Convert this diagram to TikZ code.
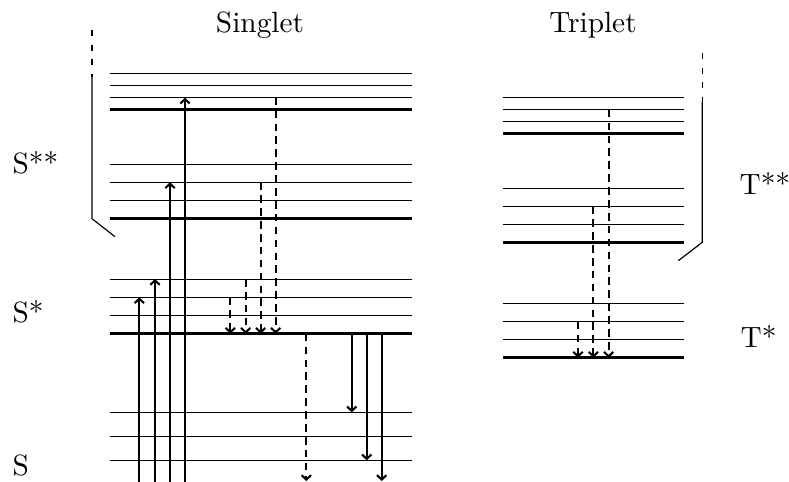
\documentclass[tikz,border=0pt]{standalone}
\usetikzlibrary{arrows.meta}
\begin{document}
\begin{tikzpicture}[x=0.341pt,y=-0.341pt,
  thinlev/.style={line width=0.4pt},
  thicklev/.style={line width=1.1pt},
  tipstyle/.style={-{Straight Barb[length=1.5pt,width=3.2pt]}},
  radarrow/.style={line width=0.7pt,tipstyle},
  nonrad/.style={line width=0.7pt,dash pattern=on 2.6pt off 1.8pt,tipstyle},
  bracketline/.style={line width=0.4pt},
  lbl/.style={inner sep=0pt,anchor=base west},
  ttl/.style={inner sep=0pt,anchor=base}]
\useasboundingbox (0,0) rectangle (789,482);

% titles
\node[ttl] (singlet) at (260,33) {Singlet};
\node[ttl] (triplet) at (593,33) {Triplet};

% state labels
\node[lbl] (Sss) at (12,173) {S**};
\node[lbl] (Ss)  at (12,323) {S*};
\node[lbl] (S0)  at (12,475) {S};
\node[lbl] (Tss) at (739,195) {T**};
\node[lbl] (Ts)  at (740,347) {T*};

% singlet levels
\foreach \y in {73.5,85.5,97.5,164.5,182.5,200.5,279.5,297.5,315.5,412.5,436.5,460.5}
  \draw[thinlev] (110,\y) -- (412,\y);
\foreach \y in {109.7,218.7,333.7}
  \draw[thicklev] (110,\y) -- (412,\y);

% triplet levels
\foreach \y in {97.5,109.5,121.5,188.5,206.5,224.5,303.5,321.5,339.5}
  \draw[thinlev] (502.7,\y) -- (684,\y);
\foreach \y in {133.7,242.3,357.7}
  \draw[thicklev] (502.7,\y) -- (684,\y);

% brackets
\coordinate (sbA) at (92,30);
\coordinate (sbB) at (92,77);
\coordinate (sbC) at (92,218.7);
\coordinate (sbD) at (115,236.7);
\draw[bracketline,dash pattern=on 2pt off 3pt] (sbA) -- (sbB);
\draw[bracketline] (sbB) -- (sbC) -- (sbD);
\coordinate (tbA) at (702.3,53);
\coordinate (tbB) at (702.3,101.7);
\coordinate (tbC) at (702.3,242.3);
\coordinate (tbD) at (678.3,260.7);
\draw[bracketline,dash pattern=on 2pt off 3pt] (tbA) -- (tbB);
\draw[bracketline] (tbB) -- (tbC) -- (tbD);

% absorption arrows
\foreach \i/\x/\yt in {1/139.3/297.3, 2/155/279, 3/170/182.3, 4/185/97.7} {
  \coordinate (ab\i) at (\x,482);
  \coordinate (ae\i) at (\x,\yt);
  \draw[radarrow] (ab\i) -- (ae\i);
}

% internal conversion to S*
\foreach \i/\x/\ys in {1/230.3/297.3, 2/245.7/279, 3/260.7/182.3, 4/275.7/97.7} {
  \coordinate (icb\i) at (\x,\ys);
  \coordinate (ice\i) at (\x,333.7);
  \draw[nonrad] (icb\i) -- (ice\i);
}

% from S* downwards
\coordinate (db1) at (306.3,333.7);
\coordinate (de1) at (306.3,481);
\draw[nonrad] (db1) -- (de1);
\foreach \i/\x/\ye in {2/351.7/412.3, 3/366.7/460.3, 4/381.7/481} {
  \coordinate (db\i) at (\x,333.7);
  \coordinate (de\i) at (\x,\ye);
  \draw[radarrow] (db\i) -- (de\i);
}

% triplet relaxation
\foreach \i/\x/\ys in {1/578/321.7, 2/593.3/206.3, 3/608.7/109.7} {
  \coordinate (tb\i) at (\x,\ys);
  \coordinate (te\i) at (\x,357.7);
  \draw[nonrad] (tb\i) -- (te\i);
}
\end{tikzpicture}
\end{document}
